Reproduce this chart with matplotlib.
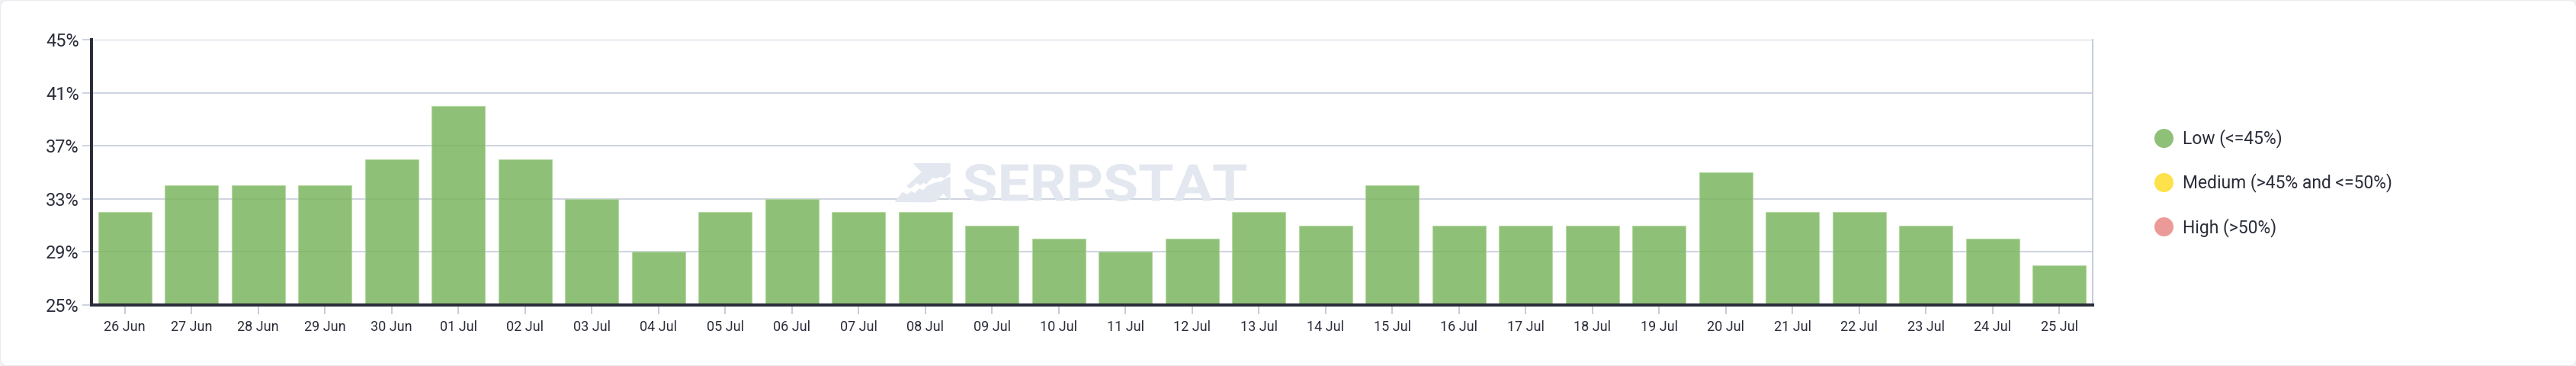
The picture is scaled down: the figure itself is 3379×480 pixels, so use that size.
import matplotlib
matplotlib.use("Agg")
import matplotlib.pyplot as plt
from matplotlib.patches import FancyBboxPatch, PathPatch, Polygon
from matplotlib.textpath import TextPath
from matplotlib.font_manager import FontProperties
from matplotlib.transforms import IdentityTransform, Affine2D
from matplotlib.lines import Line2D
from matplotlib.ticker import FuncFormatter

# ---------------- data ----------------
dates = ["26 Jun", "27 Jun", "28 Jun", "29 Jun", "30 Jun", "01 Jul", "02 Jul",
         "03 Jul", "04 Jul", "05 Jul", "06 Jul", "07 Jul", "08 Jul", "09 Jul",
         "10 Jul", "11 Jul", "12 Jul", "13 Jul", "14 Jul", "15 Jul", "16 Jul",
         "17 Jul", "18 Jul", "19 Jul", "20 Jul", "21 Jul", "22 Jul", "23 Jul",
         "24 Jul", "25 Jul"]
values = [32, 34, 34, 34, 36, 40, 36,
          33, 29, 32, 33, 32, 32, 31,
          30, 29, 30, 32, 31, 34, 31,
          31, 31, 31, 35, 32, 32, 31,
          30, 28]
y_ticks = [25, 29, 33, 37, 41, 45]
legend_labels = ["Low (<=45%)", "Medium (>45% and <=50%)", "High (>50%)"]
legend_colors = ["#8fc077", "#fde24b", "#ec9a97"]

# ---------------- style ----------------
plt.rcParams['font.family'] = ['Roboto', 'DejaVu Sans']
W, H, DPI = 3380, 480, 100
DARK = "#2b2d3a"
GRID = "#c5ccda"
BAR = "#7cb55f"

fig = plt.figure(figsize=(W / DPI, H / DPI), dpi=DPI)
fig.patch.set_facecolor("#eef0f3")
card = FancyBboxPatch((0.5, 0.5), W - 1, H - 1,
                      boxstyle="round,pad=0,rounding_size=10",
                      transform=IdentityTransform(), facecolor="white",
                      edgecolor="#e9ebef", linewidth=0.8, zorder=-10)
fig.add_artist(card)

left, right, top, bottom = 120, 2745, 52, 400
ax = fig.add_axes([left / W, 1 - bottom / H, (right - left) / W, (bottom - top) / H])
ax.set_facecolor("none")

x = list(range(len(dates)))
ax.bar(x, [v - y_ticks[0] for v in values], bottom=y_ticks[0], width=0.8,
       color=BAR, alpha=0.85, edgecolor="#b3d9a1", linewidth=0.8, zorder=3)

ax.set_xlim(-0.5, len(dates) - 0.5)
ax.set_ylim(y_ticks[0], y_ticks[-1])
ax.set_yticks(y_ticks)
ax.yaxis.set_major_formatter(FuncFormatter(lambda v, p: f"{int(v)}%"))
ax.set_xticks(x)
ax.set_xticklabels(dates)

ax.grid(axis="y", color=GRID, linewidth=1.2, zorder=1)
ax.grid(axis="x", visible=False)
ax.set_axisbelow(True)

for s in ["left", "bottom"]:
    ax.spines[s].set_color(DARK)
    ax.spines[s].set_linewidth(2.9)
    ax.spines[s].set_zorder(5)
ax.spines["right"].set_color(GRID)
ax.spines["right"].set_linewidth(1.4)
ax.spines["top"].set_visible(False)

ax.tick_params(axis="x", length=8.6, width=1.4, color=GRID, labelsize=13,
               labelcolor=DARK, pad=5.5)
ax.tick_params(axis="y", length=8.6, width=1.2, color=GRID, labelsize=16.9,
               labelcolor=DARK, pad=3)

# ---------------- watermark ----------------
def fy(py):
    return H - py

fp = FontProperties(family="Roboto", weight="bold")
tp = TextPath((0, 0), "SERPSTAT", size=100, prop=fp)
ext = tp.get_extents()
tx0, tx1, ty0, ty1 = 1265, 1635, 215, 264
sx = (tx1 - tx0) / ext.width
sy = (ty1 - ty0) / ext.height
tr = Affine2D().translate(-ext.x0, -ext.y0).scale(sx, sy).translate(tx0, fy(ty1))
wm = PathPatch(tr.transform_path(tp), facecolor="#e3e7ef", edgecolor="none",
               transform=IdentityTransform(), zorder=2)
ax.add_artist(wm)
wm.set_clip_on(False)

def logo_pts(pts):
    return [(1150 + a / 3.0, fy(190 + b / 3.0)) for a, b in pts]

upper = logo_pts([(143, 72), (290, 72), (290, 110), (268, 130), (250, 126),
                  (235, 133), (222, 128), (208, 140), (196, 155), (184, 150),
                  (170, 160), (158, 150), (142, 165), (128, 172), (118, 162),
                  (176, 108)])
lower = logo_pts([(70, 225), (100, 186), (122, 194), (136, 182), (150, 190),
                  (166, 172), (184, 178), (200, 160), (222, 152), (236, 146),
                  (252, 146), (270, 132), (290, 126), (290, 220), (262, 192),
                  (232, 224), (210, 226)])
for poly in (upper, lower):
    pg = Polygon(poly, closed=True, facecolor="#e3e7ef", edgecolor="none",
                 transform=IdentityTransform(), zorder=2)
    pg.set_clip_on(False)
    ax.add_artist(pg)

# ---------------- legend ----------------
handles = [Line2D([], [], marker="o", linestyle="none", markersize=17,
                  markerfacecolor=c, markeredgecolor=c) for c in legend_colors]
fig.legend(handles, legend_labels, loc="center left",
           bbox_to_anchor=(2825 / W, 0.5), frameon=False, fontsize=16.5,
           handlelength=1.1, handletextpad=0.55, labelspacing=1.45,
           borderpad=0, borderaxespad=0, labelcolor=DARK)

fig.savefig("out.png", dpi=DPI, facecolor=fig.get_facecolor())
